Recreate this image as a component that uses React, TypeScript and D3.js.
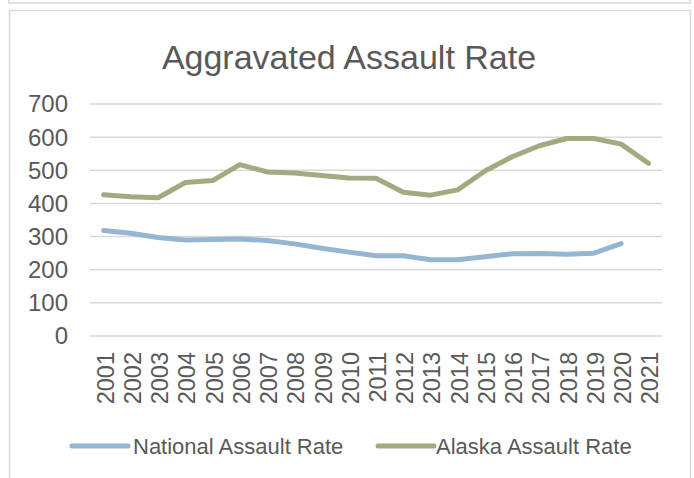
import React from "react";
import * as d3 from "d3";

const years = ["2001","2002","2003","2004","2005","2006","2007","2008","2009","2010","2011","2012","2013","2014","2015","2016","2017","2018","2019","2020","2021"];
const nationalRate: (number | null)[] = [318,310,297,290,291,293,288,278,265,253,242,242,230,230,239,248,249,247,250,279,null];
const alaskaRate: (number | null)[] = [426,420,417,463,469,517,495,492,484,477,476,434,425,441,498,541,574,596,596,579,521];
const yTicks = [0,100,200,300,400,500,600,700];
const seriesNames = ["National Assault Rate","Alaska Assault Rate"];
const seriesColors = ["#94B6D3","#A4AA80"];

const W = 694, H = 478;
const FONT = "'Liberation Sans', Arial, sans-serif";
const TEXT = "#595959";

export default function App() {
  const x = d3.scalePoint<string>().domain(years).range([90, 662]).padding(0.5);
  const y = d3.scaleLinear().domain([0, 700]).range([336, 104]);
  const line = d3.line<number | null>()
    .defined((d) => d !== null)
    .x((_, i) => x(years[i]) as number)
    .y((d) => y(d as number));
  const series = [nationalRate, alaskaRate];
  const legendX = [[72, 128, 133], [378, 434, 436]];

  return (
    <svg width={W} height={H} style={{ position: "absolute", left: 0, top: 0, background: "#fff" }} fontFamily={FONT}>
      <rect x={0} y={0} width={W} height={H} fill="#fff" />
      <rect x={9} y={-20} width={681} height={23} fill="none" stroke="#D9D9D9" strokeWidth={1.5} />
      <rect x={9.5} y={10.5} width={681} height={500} fill="#fff" stroke="#D9D9D9" strokeWidth={1.5} />
      <text x={349} y={69} textAnchor="middle" fontSize={34} fill={TEXT}>Aggravated Assault Rate</text>
      {yTicks.map((t) => (
        <g key={t}>
          <line x1={90} x2={662} y1={y(t)} y2={y(t)} stroke="#D9D9D9" strokeWidth={1.5} />
          <text x={68} y={y(t)} dy="0.35em" textAnchor="end" fontSize={24} fill={TEXT}>{t}</text>
        </g>
      ))}
      {years.map((yr) => (
        <text key={yr} transform={`translate(${(x(yr) as number) + 10},352) rotate(-90)`} textAnchor="end" fontSize={23.5} fill={TEXT}>{yr}</text>
      ))}
      {series.map((s, i) => (
        <path key={i} d={line(s) || ""} fill="none" stroke={seriesColors[i]} strokeWidth={5} strokeLinejoin="round" strokeLinecap="round" />
      ))}
      {seriesNames.map((n, i) => (
        <g key={n}>
          <line x1={legendX[i][0]} x2={legendX[i][1]} y1={446} y2={446} stroke={seriesColors[i]} strokeWidth={5} strokeLinecap="round" />
          <text x={legendX[i][2]} y={446} dy="0.35em" fontSize={22} fill={TEXT}>{n}</text>
        </g>
      ))}
    </svg>
  );
}
